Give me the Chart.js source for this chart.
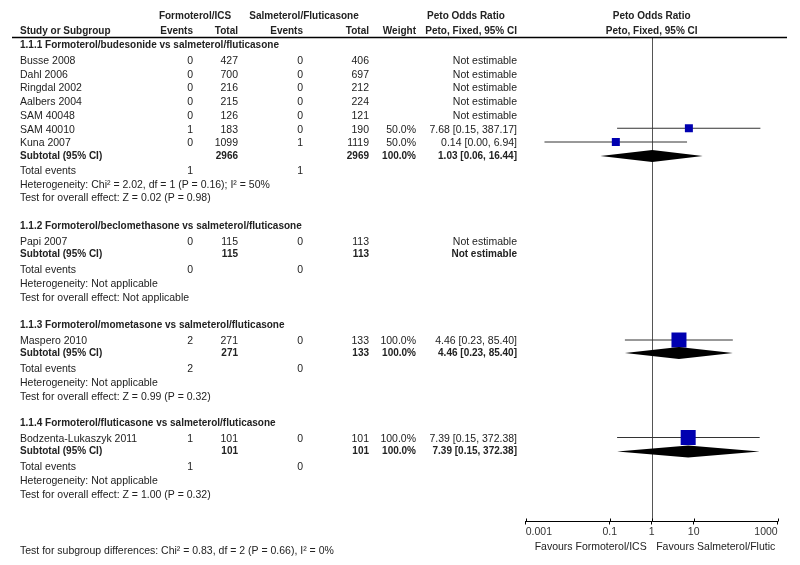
<!DOCTYPE html>
<html><head><meta charset="utf-8">
<script src="https://cdn.jsdelivr.net/npm/chart.js@4.4.0/dist/chart.umd.min.js"></script>
<style>html,body{margin:0;padding:0;background:#fff;}canvas{display:block;}</style>
</head><body>
<canvas id="c" width="800" height="565"></canvas>
<script>
// ---------------- DATA ----------------
const sectionTitles = [
  '1.1.1 Formoterol/budesonide vs salmeterol/fluticasone',
  '1.1.2 Formoterol/beclomethasone vs salmeterol/fluticasone',
  '1.1.3 Formoterol/mometasone vs salmeterol/fluticasone',
  '1.1.4 Formoterol/fluticasone vs salmeterol/fluticasone'
];
const studyNames = ['Busse 2008','Dahl 2006','Ringdal 2002','Aalbers 2004','SAM 40048','SAM 40010','Kuna 2007','Papi 2007','Maspero 2010','Bodzenta-Lukaszyk 2011'];
const events1 = [0,0,0,0,0,1,0,0,2,1];
const totals1 = [427,700,216,215,126,183,1099,115,271,101];
const events2 = [0,0,0,0,0,0,1,0,0,0];
const totals2 = [406,697,212,224,121,190,1119,113,133,101];
const weights = [null,null,null,null,null,50.0,50.0,null,100.0,100.0];
const oddsRatio = [null,null,null,null,null,7.68,0.14,null,4.46,7.39];
const ciLow = [null,null,null,null,null,0.15,0.0028,null,0.23,0.15];
const ciHigh = [null,null,null,null,null,387.17,6.94,null,85.40,372.38];
const ciText = ['Not estimable','Not estimable','Not estimable','Not estimable','Not estimable','7.68 [0.15, 387.17]','0.14 [0.00, 6.94]','Not estimable','4.46 [0.23, 85.40]','7.39 [0.15, 372.38]'];

const subTotals1 = [2966,115,271,101];
const subTotals2 = [2969,113,133,101];
const subWeights = [100.0,null,100.0,100.0];
const subOR = [1.03,null,4.46,7.39];
const subLow = [0.06,null,0.23,0.15];
const subHigh = [16.44,null,85.40,372.38];
const subText = ['1.03 [0.06, 16.44]','Not estimable','4.46 [0.23, 85.40]','7.39 [0.15, 372.38]'];
const totalEvents1 = [1,0,2,1];
const totalEvents2 = [1,0,0,0];
const heterogeneity = [
  'Heterogeneity: Chi\u00B2 = 2.02, df = 1 (P = 0.16); I\u00B2 = 50%',
  'Heterogeneity: Not applicable',
  'Heterogeneity: Not applicable',
  'Heterogeneity: Not applicable'
];
const overallEffect = [
  'Test for overall effect: Z = 0.02 (P = 0.98)',
  'Test for overall effect: Not applicable',
  'Test for overall effect: Z = 0.99 (P = 0.32)',
  'Test for overall effect: Z = 1.00 (P = 0.32)'
];
const subgroupTest = 'Test for subgroup differences: Chi\u00B2 = 0.83, df = 2 (P = 0.66), I\u00B2 = 0%';
const tickValues = [0.001,0.1,1,10,1000];
const tickLabels = ['0.001','0.1','1','10','1000'];
const favoursLeft = 'Favours Formoterol/ICS';
const favoursRight = 'Favours Salmeterol/Flutic';

// ---------------- LAYOUT (row positions / columns) ----------------
const L = {
  header1: 16.5, header2: 31.5, rule: 37.5, axis: 521.5,
  sectionY: [45, 226, 325, 423.5],
  studyY: [61, 74.75, 88.5, 102.25, 116, 129.75, 143.5, 242, 341.5, 439],
  subtotalY: [156, 254, 353, 451.5],
  totalEvtY: [171.5, 270, 369.5, 467.5],
  hetY: [185, 284, 383, 481.5],
  effectY: [198.5, 298, 397, 495],
  favoursY: 547.5, subgroupY: 551.5,
  nameX: 20, ev1X: 193, tot1X: 238, ev2X: 303, tot2X: 369, wX: 416, ciX: 517,
  grp1X: 195, grp2X: 304, petoX: 466,
  markerDy: -1.5, diamondHalf: 6
};
const FONT = '"Liberation Sans", Arial, Helvetica, sans-serif';
const TXT = '#222';
const REG = '10.5px ' + FONT;
const BOLD = 'bold 10px ' + FONT;

// ---------------- DATASETS ----------------
const est = oddsRatio.map((v, i) => v == null ? -1 : i).filter(i => i >= 0);
const datasets = [];
est.forEach(i => {
  datasets.push({
    type: 'scatter', showLine: true, order: 2,
    data: [{x: ciLow[i], y: L.studyY[i] + L.markerDy}, {x: ciHigh[i], y: L.studyY[i] + L.markerDy}],
    borderColor: '#333', borderWidth: 1, pointRadius: 0
  });
});
const squareRadius = est.map(i => (1 + 14 * weights[i] / 100) / (2 * Math.SQRT1_2));
datasets.push({
  type: 'scatter', order: 1,
  data: est.map(i => ({x: oddsRatio[i], y: L.studyY[i] + L.markerDy})),
  pointStyle: 'rect',
  pointRadius: ctx => squareRadius[ctx.dataIndex],
  backgroundColor: '#0000b0', borderWidth: 0
});

function t(ctx, s, x, y, align, bold) {
  ctx.font = bold ? BOLD : REG;
  ctx.textAlign = align; ctx.textBaseline = 'middle';
  ctx.fillStyle = TXT;
  ctx.fillText(s, x, y);
}

const forestPlugin = {
  id: 'forest',
  beforeDatasetsDraw(chart) {
    const {ctx, chartArea, scales: {x, y}} = chart;
    const px = Math.round(x.getPixelForValue(1)) + 0.5;
    ctx.save();
    ctx.strokeStyle = '#555'; ctx.lineWidth = 1;
    ctx.beginPath(); ctx.moveTo(px, y.getPixelForValue(L.rule)); ctx.lineTo(px, chartArea.bottom); ctx.stroke();
    ctx.restore();
  },
  afterDatasetsDraw(chart) {
    const {ctx, scales: {x, y}} = chart;
    ctx.save();
    ctx.fillStyle = '#000';
    subOR.forEach((v, s) => {
      if (v == null) return;
      const yc = y.getPixelForValue(L.subtotalY[s]);
      ctx.beginPath();
      ctx.moveTo(x.getPixelForValue(subLow[s]), yc);
      ctx.lineTo(x.getPixelForValue(v), yc - L.diamondHalf);
      ctx.lineTo(x.getPixelForValue(subHigh[s]), yc);
      ctx.lineTo(x.getPixelForValue(v), yc + L.diamondHalf);
      ctx.closePath(); ctx.fill();
    });
    ctx.restore();
  },
  afterDraw(chart) {
    const {ctx, scales: {x, y}} = chart;
    const Y = v => y.getPixelForValue(v);
    ctx.save();
    // headers
    t(ctx, 'Formoterol/ICS', L.grp1X, Y(L.header1), 'center', true);
    t(ctx, 'Salmeterol/Fluticasone', L.grp2X, Y(L.header1), 'center', true);
    t(ctx, 'Peto Odds Ratio', L.petoX, Y(L.header1), 'center', true);
    t(ctx, 'Peto Odds Ratio', x.getPixelForValue(1), Y(L.header1), 'center', true);
    t(ctx, 'Study or Subgroup', L.nameX, Y(L.header2), 'left', true);
    t(ctx, 'Events', L.ev1X, Y(L.header2), 'right', true);
    t(ctx, 'Total', L.tot1X, Y(L.header2), 'right', true);
    t(ctx, 'Events', L.ev2X, Y(L.header2), 'right', true);
    t(ctx, 'Total', L.tot2X, Y(L.header2), 'right', true);
    t(ctx, 'Weight', L.wX, Y(L.header2), 'right', true);
    t(ctx, 'Peto, Fixed, 95% CI', L.ciX, Y(L.header2), 'right', true);
    t(ctx, 'Peto, Fixed, 95% CI', x.getPixelForValue(1), Y(L.header2), 'center', true);
    // rule under header
    ctx.strokeStyle = '#000'; ctx.lineWidth = 1.5;
    ctx.beginPath(); ctx.moveTo(12, Y(L.rule)); ctx.lineTo(787, Y(L.rule)); ctx.stroke();
    // sections
    sectionTitles.forEach((s, k) => t(ctx, s, L.nameX, Y(L.sectionY[k]), 'left', true));
    studyNames.forEach((n, i) => {
      const yy = Y(L.studyY[i]);
      t(ctx, n, L.nameX, yy, 'left');
      t(ctx, String(events1[i]), L.ev1X, yy, 'right');
      t(ctx, String(totals1[i]), L.tot1X, yy, 'right');
      t(ctx, String(events2[i]), L.ev2X, yy, 'right');
      t(ctx, String(totals2[i]), L.tot2X, yy, 'right');
      if (weights[i] != null) t(ctx, weights[i].toFixed(1) + '%', L.wX, yy, 'right');
      t(ctx, ciText[i], L.ciX, yy, 'right');
    });
    sectionTitles.forEach((s, k) => {
      const ys = Y(L.subtotalY[k]);
      t(ctx, 'Subtotal (95% CI)', L.nameX, ys, 'left', true);
      t(ctx, String(subTotals1[k]), L.tot1X, ys, 'right', true);
      t(ctx, String(subTotals2[k]), L.tot2X, ys, 'right', true);
      if (subWeights[k] != null) t(ctx, subWeights[k].toFixed(1) + '%', L.wX, ys, 'right', true);
      t(ctx, subText[k], L.ciX, ys, 'right', true);
      const ye = Y(L.totalEvtY[k]);
      t(ctx, 'Total events', L.nameX, ye, 'left');
      t(ctx, String(totalEvents1[k]), L.ev1X, ye, 'right');
      t(ctx, String(totalEvents2[k]), L.ev2X, ye, 'right');
      t(ctx, heterogeneity[k], L.nameX, Y(L.hetY[k]), 'left');
      t(ctx, overallEffect[k], L.nameX, Y(L.effectY[k]), 'left');
    });
    // upper halves of axis ticks
    ctx.strokeStyle = '#000'; ctx.lineWidth = 1;
    tickValues.forEach(v => {
      const px = Math.round(x.getPixelForValue(v)) + 0.5;
      ctx.beginPath(); ctx.moveTo(px, Y(L.axis) - 3); ctx.lineTo(px, Y(L.axis)); ctx.stroke();
    });
    const p1 = x.getPixelForValue(1);
    t(ctx, favoursLeft, p1 - 5, Y(L.favoursY), 'right');
    t(ctx, favoursRight, p1 + 4.5, Y(L.favoursY), 'left');
    t(ctx, subgroupTest, L.nameX, Y(L.subgroupY), 'left');
    ctx.restore();
  }
};

new Chart(document.getElementById('c'), {
  type: 'scatter',
  data: { datasets },
  options: {
    responsive: false, animation: false, events: [], devicePixelRatio: 1,
    layout: { padding: { left: 525.7, right: 22.3, top: 37.5, bottom: 0 } },
    plugins: { legend: { display: false }, tooltip: { enabled: false } },
    scales: {
      x: {
        type: 'logarithmic', position: 'bottom', min: 0.001, max: 1000,
        afterBuildTicks: s => { s.ticks = tickValues.map(v => ({ value: v })); },
        afterFit: s => { s.height = 43.5; },
        ticks: {
          callback: (v, i) => tickLabels[i] ?? '',
          align: 'inner', autoSkip: false, maxRotation: 0, minRotation: 0,
          color: '#333', font: { family: FONT, size: 10.5 }, padding: 1
        },
        grid: { display: true, drawOnChartArea: false, drawTicks: true, tickLength: 3, color: '#000', lineWidth: 1 },
        border: { display: true, color: '#000', width: 1 }
      },
      y: { type: 'linear', display: false, min: 37.5, max: 521.5, reverse: true }
    }
  },
  plugins: [forestPlugin]
});
</script>
</body></html>
